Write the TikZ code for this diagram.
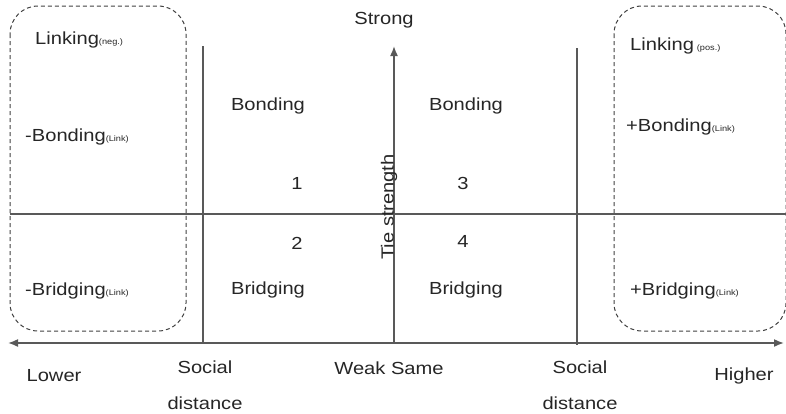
\documentclass[tikz,border=0pt]{standalone}
\usepackage{fontspec}
\setmainfont[FakeStretch=1.15]{Liberation Sans}
\usetikzlibrary{arrows.meta}
\begin{document}
\begin{tikzpicture}[x=1pt,y=-1pt,
  axis/.style={draw=black!65,line width=1.6pt},
  box/.style={draw=black!75,dash pattern=on 4pt off 3pt,line width=1pt,rounded corners=28pt},
  lbl/.style={font=\fontsize{17.5}{20}\selectfont,text=black!85,inner sep=0pt},
  lft/.style={lbl,anchor=west}]
\useasboundingbox (0,0) rectangle (786,413);
% dashed boxes
\draw[box] (10,6) rectangle (186,331);
\draw[box] (614,6) rectangle (786,331);
% coordinates
\coordinate (hl) at (8,343);
\coordinate (hr) at (784,343);
\coordinate (ml) at (10,214);
\coordinate (mr) at (786,214);
\coordinate (v1t) at (203,46);
\coordinate (v1b) at (203,343);
\coordinate (v2t) at (577,48);
\coordinate (v2b) at (577,345);
\coordinate (vct) at (394,46);
\coordinate (vcb) at (394,343);
\draw[axis,{Latex[length=10pt,width=8pt]}-{Latex[length=10pt,width=8pt]}] (hl) -- (hr);
\draw[axis] (ml) -- (mr);
\draw[axis] (v1t) -- (v1b);
\draw[axis] (v2t) -- (v2b);
\draw[axis,-{Latex[length=10pt,width=8pt]}] (vcb) -- (vct);
% labels
\node[lbl] (strong) at (384,20) {Strong};
\node[lft] (ln) at (35,40) {Linking{\fontsize{8}{9}\selectfont(neg.)}};
\node[lft] (bn) at (25,137) {-Bonding{\fontsize{8}{9}\selectfont(Link)}};
\node[lft] (brn) at (25,291) {-Bridging{\fontsize{8}{9}\selectfont(Link)}};
\node[lft] (lp) at (630,46) {Linking\,{\fontsize{8}{9}\selectfont(pos.)}};
\node[lft] (bp) at (626,127) {+Bonding{\fontsize{8}{9}\selectfont(Link)}};
\node[lft] (brp) at (630,291) {+Bridging{\fontsize{8}{9}\selectfont(Link)}};
\node[lbl] (b1) at (268,106) {Bonding};
\node[lbl] (b2) at (466,106) {Bonding};
\node[lbl] (n1) at (297,183) {1};
\node[lbl] (n3) at (463,183) {3};
\node[lbl] (n2) at (297,243) {2};
\node[lbl] (n4) at (463,241) {4};
\node[lbl] (br1) at (268,290) {Bridging};
\node[lbl] (br2) at (466,290) {Bridging};
\node[lbl,rotate=90] (tie) at (389,207) {Tie strength};
\node[lbl] (lower) at (54,376) {Lower};
\node[lbl] (s1) at (205,367) {Social};
\node[lbl] (d1) at (205,403) {distance};
\node[lbl] (weak) at (389,368) {Weak Same};
\node[lbl] (s2) at (580,367) {Social};
\node[lbl] (d2) at (580,403) {distance};
\node[lbl] (higher) at (744,376) {Higher};
\end{tikzpicture}
\end{document}
